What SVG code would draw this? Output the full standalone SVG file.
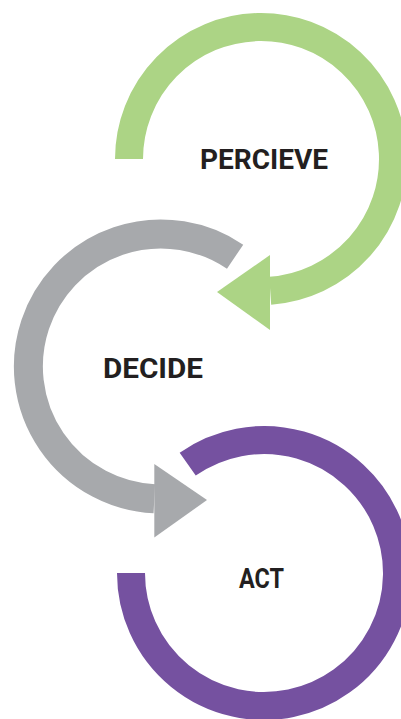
<svg xmlns="http://www.w3.org/2000/svg" width="401" height="719" viewBox="0 0 401 719">
  <style>
    .lbl { font-family: Roboto, "Liberation Sans", sans-serif; font-weight: 700; font-size: 28px; fill: #231f20; }
    .ring { fill: none; stroke-linecap: butt; }
    .green { stroke: #acd485; }
    .gray { stroke: #a7a9ac; }
    .purple { stroke: #7551a0; }
  </style>
  <rect width="401" height="719" fill="#ffffff"/>
  <g id="percieve">
    <path class="ring green" stroke-width="28" d="M129,159 A132,132 0 1 1 270.2,290.7"/>
    <polygon fill="#acd485" points="270,255 270,330 217,292"/>
    <text class="lbl" x="200" y="169" textLength="128" lengthAdjust="spacingAndGlyphs">PERCIEVE</text>
  </g>
  <g id="decide">
    <path class="ring gray" stroke-width="29" d="M235.1,256.7 A132.5,132.5 0 1 0 154.3,498.8"/>
    <polygon fill="#a7a9ac" points="154.3,464 154.3,537.5 207,500"/>
    <text class="lbl" x="103" y="378" textLength="100" lengthAdjust="spacingAndGlyphs">DECIDE</text>
  </g>
  <g id="act">
    <path class="ring purple" stroke-width="28" d="M131,573 A133,133 0 1 0 187.7,464.1"/>
    <text class="lbl" x="239" y="588" textLength="45" lengthAdjust="spacingAndGlyphs">ACT</text>
  </g>
  <g id="connectors"></g>
</svg>
